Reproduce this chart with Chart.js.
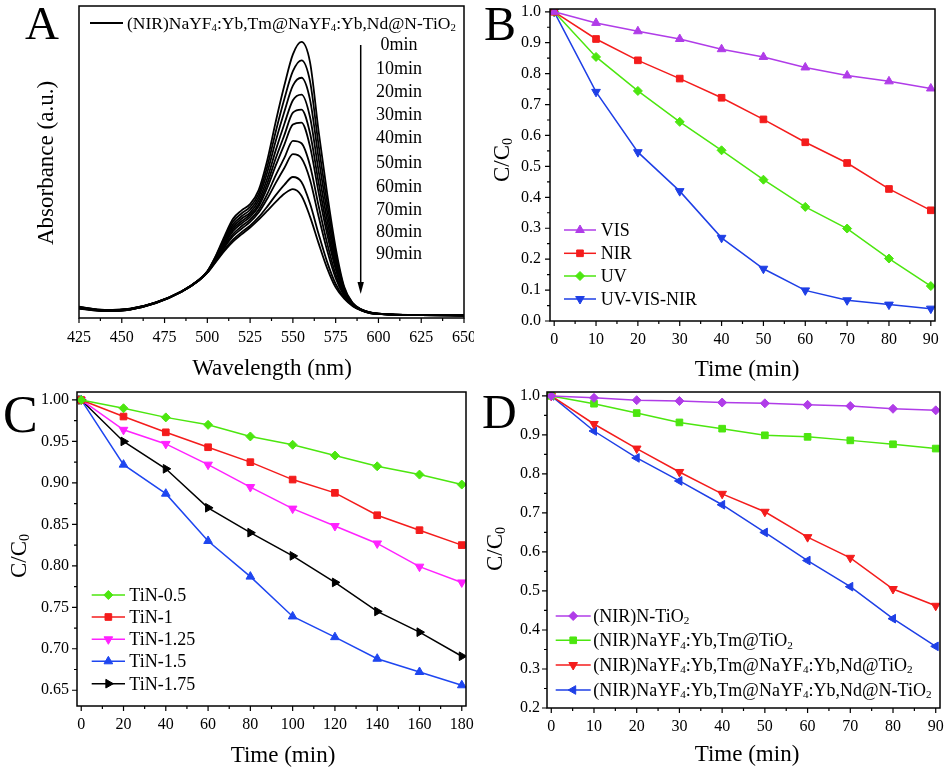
<!DOCTYPE html>
<html>
<head>
<meta charset="utf-8">
<script src="https://cdn.jsdelivr.net/npm/chart.js@4.4.1/dist/chart.umd.min.js"></script>
<style>
  html, body { margin: 0; padding: 0; background: #fff; }
  #wrap { position: relative; width: 948px; height: 772px; overflow: hidden; }
  canvas { position: absolute; }
</style>
</head>
<body>
<div id="wrap">
  <canvas id="chartA" width="474" height="386" style="left:0;top:0"></canvas>
  <canvas id="chartB" width="474" height="386" style="left:474px;top:0"></canvas>
  <canvas id="chartC" width="474" height="386" style="left:0;top:386px"></canvas>
  <canvas id="chartD" width="474" height="386" style="left:474px;top:386px"></canvas>
</div>
<script>
// ---- panel A: absorption spectra ----
const wavelengths = [425, 440, 455, 470, 485, 495, 500, 505, 510, 515, 520, 525, 530, 535, 540,
                     545, 550, 555, 560, 565, 570, 575, 580, 585, 590, 595, 600, 610, 625, 650];
const abs0  = [0.036,0.026,0.030,0.050,0.086,0.122,0.150,0.200,0.262,0.318,0.345,0.365,0.410,0.505,0.630,0.745,0.845,0.885,0.820,0.600,0.400,0.225,0.100,0.048,0.028,0.018,0.014,0.011,0.010,0.009];
const abs10 = [0.035,0.026,0.030,0.050,0.086,0.122,0.149,0.198,0.256,0.309,0.335,0.356,0.398,0.485,0.598,0.702,0.791,0.826,0.759,0.555,0.370,0.209,0.095,0.047,0.027,0.018,0.014,0.011,0.010,0.009];
const abs20 = [0.035,0.025,0.029,0.050,0.086,0.122,0.149,0.195,0.251,0.300,0.326,0.347,0.387,0.466,0.568,0.661,0.745,0.770,0.700,0.513,0.342,0.194,0.091,0.046,0.027,0.018,0.014,0.011,0.010,0.009];
const abs30 = [0.034,0.025,0.029,0.049,0.085,0.121,0.148,0.193,0.245,0.292,0.318,0.338,0.376,0.447,0.538,0.622,0.698,0.716,0.644,0.472,0.315,0.180,0.087,0.044,0.026,0.017,0.014,0.011,0.010,0.009];
const abs40 = [0.033,0.024,0.029,0.049,0.085,0.121,0.148,0.191,0.240,0.285,0.310,0.331,0.366,0.431,0.512,0.586,0.658,0.668,0.593,0.435,0.290,0.167,0.083,0.043,0.026,0.017,0.013,0.011,0.009,0.008];
const abs50 = [0.033,0.024,0.028,0.049,0.085,0.121,0.147,0.189,0.236,0.278,0.303,0.324,0.358,0.417,0.489,0.556,0.620,0.626,0.550,0.403,0.269,0.156,0.079,0.043,0.026,0.017,0.013,0.010,0.009,0.008];
const abs60 = [0.032,0.023,0.028,0.049,0.085,0.121,0.147,0.187,0.231,0.269,0.294,0.315,0.347,0.397,0.458,0.513,0.568,0.560,0.489,0.360,0.240,0.140,0.075,0.041,0.025,0.017,0.013,0.010,0.009,0.008];
const abs70 = [0.031,0.023,0.028,0.048,0.084,0.120,0.146,0.185,0.226,0.262,0.286,0.308,0.338,0.382,0.433,0.481,0.525,0.512,0.443,0.326,0.217,0.128,0.071,0.040,0.025,0.016,0.013,0.010,0.009,0.008];
const abs80 = [0.031,0.022,0.027,0.048,0.084,0.120,0.145,0.182,0.219,0.251,0.275,0.296,0.323,0.357,0.394,0.427,0.452,0.436,0.367,0.270,0.180,0.109,0.065,0.039,0.024,0.016,0.013,0.010,0.009,0.008];
const abs90 = [0.030,0.022,0.027,0.048,0.084,0.120,0.145,0.180,0.215,0.245,0.268,0.290,0.315,0.343,0.372,0.398,0.413,0.392,0.325,0.240,0.160,0.098,0.062,0.038,0.024,0.016,0.013,0.010,0.009,0.008];
const spectra = [abs0, abs10, abs20, abs30, abs40, abs50, abs60, abs70, abs80, abs90];
const timeLabelsA = ['0min', '10min', '20min', '30min', '40min', '50min', '60min', '70min', '80min', '90min'];
const ticksAx = [425, 450, 475, 500, 525, 550, 575, 600, 625, 650];

// ---- panel B: light sources ----
const timeB = [0, 10, 20, 30, 40, 50, 60, 70, 80, 90];
const vis      = [1.0, 0.964, 0.937, 0.912, 0.879, 0.854, 0.820, 0.794, 0.775, 0.752];
const nir      = [1.0, 0.912, 0.843, 0.784, 0.722, 0.652, 0.578, 0.511, 0.427, 0.358];
const uv       = [1.0, 0.854, 0.744, 0.644, 0.552, 0.457, 0.369, 0.299, 0.202, 0.113];
const uvVisNir = [1.0, 0.741, 0.546, 0.420, 0.269, 0.169, 0.099, 0.067, 0.053, 0.040];
const ticksBx = [0, 10, 20, 30, 40, 50, 60, 70, 80, 90];
const ticksBy = [0.0, 0.1, 0.2, 0.3, 0.4, 0.5, 0.6, 0.7, 0.8, 0.9, 1.0];

// ---- panel C: TiN samples ----
const timeC = [0, 20, 40, 60, 80, 100, 120, 140, 160, 180];
const tin05  = [1.0, 0.990, 0.979, 0.970, 0.956, 0.946, 0.933, 0.920, 0.910, 0.898];
const tin1   = [1.0, 0.980, 0.961, 0.943, 0.925, 0.904, 0.888, 0.861, 0.843, 0.825];
const tin125 = [1.0, 0.964, 0.947, 0.922, 0.895, 0.869, 0.848, 0.827, 0.799, 0.780];
const tin15  = [1.0, 0.922, 0.887, 0.830, 0.787, 0.739, 0.714, 0.688, 0.672, 0.656];
const tin175 = [1.0, 0.950, 0.917, 0.870, 0.840, 0.812, 0.780, 0.745, 0.720, 0.691];
const ticksCx = [0, 20, 40, 60, 80, 100, 120, 140, 160, 180];
const ticksCy = [0.65, 0.70, 0.75, 0.80, 0.85, 0.90, 0.95, 1.00];

// ---- panel D: catalysts under NIR ----
const timeD = [0, 10, 20, 30, 40, 50, 60, 70, 80, 90];
const nTiO2    = [1.0, 0.995, 0.989, 0.987, 0.983, 0.981, 0.977, 0.974, 0.967, 0.963];
const ybTmTiO2 = [1.0, 0.980, 0.956, 0.932, 0.916, 0.899, 0.895, 0.886, 0.876, 0.865];
const ndTiO2   = [1.0, 0.928, 0.865, 0.805, 0.749, 0.703, 0.638, 0.585, 0.505, 0.462];
const ndNTiO2  = [1.0, 0.910, 0.841, 0.782, 0.721, 0.650, 0.578, 0.511, 0.429, 0.358];
const ticksDx = [0, 10, 20, 30, 40, 50, 60, 70, 80, 90];
const ticksDy = [0.2, 0.3, 0.4, 0.5, 0.6, 0.7, 0.8, 0.9, 1.0];

const SERIF = "'Liberation Serif', 'Times New Roman', serif";
const VIOLET = '#b03ce8', RED = '#f41c1c', GREEN = '#4ce60f', BLUE = '#1e3fe6', MAGENTA = '#ff22ff';

// text with "_x" = subscript x
function richText(ctx, str, x, y, size, align) {
  const parts = [];
  for (let i = 0; i < str.length; i++) {
    if (str[i] === '_') { parts.push({ t: str[i + 1], sub: true }); i++; }
    else if (parts.length && !parts[parts.length - 1].sub) parts[parts.length - 1].t += str[i];
    else parts.push({ t: str[i], sub: false });
  }
  const subSize = size * 0.62;
  let w = 0;
  parts.forEach(p => {
    ctx.font = (p.sub ? subSize : size) + 'px ' + SERIF;
    p.w = ctx.measureText(p.t).width;
    w += p.w;
  });
  let cx = align === 'center' ? x - w / 2 : x;
  ctx.textAlign = 'left';
  ctx.textBaseline = 'alphabetic';
  ctx.fillStyle = '#000';
  parts.forEach(p => {
    ctx.font = (p.sub ? subSize : size) + 'px ' + SERIF;
    ctx.fillText(p.t, cx, p.sub ? y + size * 0.14 : y);
    cx += p.w;
  });
}

function marker(ctx, ds, x, y) {
  ctx.fillStyle = ds.pointBackgroundColor;
  ctx.strokeStyle = ds.pointBorderColor;
  ctx.lineWidth = ds.pointBorderWidth;
  Chart.helpers.drawPoint(ctx, {
    pointStyle: ds.pointStyle, rotation: ds.pointRotation || 0,
    radius: ds.pointRadius, borderWidth: ds.pointBorderWidth
  }, x, y);
}

const framePlugin = {
  id: 'frame',
  afterDraw(chart, args, o) {
    const ctx = chart.ctx, a = chart.chartArea;
    const xs = chart.scales.x, ys = chart.scales.y;
    ctx.save();
    ctx.strokeStyle = '#000';
    ctx.lineWidth = 1.5;
    ctx.strokeRect(a.left, a.top, a.right - a.left, a.bottom - a.top);

    // major + minor tick marks, pointing out of the box
    ctx.lineWidth = 1.2;
    ctx.beginPath();
    const xTick = (v, len) => { const p = xs.getPixelForValue(v); ctx.moveTo(p, a.bottom); ctx.lineTo(p, a.bottom + len); };
    const yTick = (v, len) => { const p = ys.getPixelForValue(v); ctx.moveTo(a.left, p); ctx.lineTo(a.left - len, p); };
    (o.xTicks || []).forEach((v, i, arr) => {
      xTick(v, 5);
      if (i < arr.length - 1) xTick((v + arr[i + 1]) / 2, 3);
    });
    (o.yTicks || []).forEach((v, i, arr) => {
      yTick(v, 5);
      if (i < arr.length - 1) yTick((v + arr[i + 1]) / 2, 3);
    });
    ctx.stroke();

    // titles
    richText(ctx, o.xTitle.text, o.xTitle.x, o.xTitle.y + 23 * 0.33, 23, 'center');
    ctx.save();
    ctx.translate(o.yTitle.x, o.yTitle.y);
    ctx.rotate(-Math.PI / 2);
    richText(ctx, o.yTitle.text, 0, 23 * 0.33, 23, 'center');
    ctx.restore();
    ctx.font = o.letter.size + 'px ' + SERIF;
    ctx.fillStyle = '#000';
    ctx.textAlign = 'left';
    ctx.textBaseline = 'alphabetic';
    ctx.fillText(o.letter.text, o.letter.x, o.letter.y);

    // legend: line + marker + label
    if (o.legend) {
      const L = o.legend;
      chart.data.datasets.forEach((ds, i) => {
        if (i >= L.rows.length) return;
        const y = L.rows[i];
        ctx.strokeStyle = ds.borderColor;
        ctx.lineWidth = ds.borderWidth;
        ctx.beginPath();
        ctx.moveTo(L.x1, y);
        ctx.lineTo(L.x2, y);
        ctx.stroke();
        if (ds.pointRadius > 0) marker(ctx, ds, (L.x1 + L.x2) / 2, y);
        richText(ctx, L.labels ? L.labels[i] : ds.label, L.tx, y + L.size * 0.33, L.size, 'left');
      });
    }
    if (o.extra) o.extra(ctx, chart);
    ctx.restore();
  }
};

const pts = (xv, yv) => xv.map((x, i) => ({ x: x, y: yv[i] }));

function series(label, xv, yv, color, style, rot, r) {
  return {
    label: label, data: pts(xv, yv),
    borderColor: color, backgroundColor: color, borderWidth: 1.5,
    pointStyle: style, pointRotation: rot, pointRadius: r,
    pointBackgroundColor: color, pointBorderColor: color, pointBorderWidth: 1,
    tension: 0
  };
}

function xAxis(min, max, tickVals, height, pad, fmt) {
  return {
    type: 'linear', min: min, max: max,
    afterBuildTicks: s => { s.ticks = tickVals.map(v => ({ value: v })); },
    afterFit: s => { s.height = height; s.paddingLeft = 0; s.paddingRight = 0; },
    ticks: { font: { family: SERIF, size: 16 }, color: '#000', padding: pad, maxRotation: 0, autoSkip: false, callback: v => fmt(v) },
    grid: { display: false, drawTicks: false },
    border: { display: false }
  };
}

function yAxis(min, max, tickVals, width, pad, fmt) {
  return {
    type: 'linear', min: min, max: max,
    afterBuildTicks: s => { s.ticks = tickVals.map(v => ({ value: v })); },
    afterFit: s => { s.width = width; s.paddingTop = 0; s.paddingBottom = 0; },
    ticks: { display: tickVals.length > 0, font: { family: SERIF, size: 16 }, color: '#000', padding: pad, autoSkip: false, callback: v => fmt(v) },
    grid: { display: false, drawTicks: false },
    border: { display: false }
  };
}

const fmt0 = v => String(v);
const fmt1 = v => v.toFixed(1);
const fmt2 = v => v.toFixed(2);

function baseOptions(pad, scales, frame) {
  return {
    responsive: false, animation: false, devicePixelRatio: 1,
    layout: { padding: pad },
    scales: scales,
    plugins: { legend: { display: false }, tooltip: { enabled: false }, frame: frame }
  };
}

// ---- A ----
new Chart(document.getElementById('chartA'), {
  type: 'line',
  data: {
    datasets: spectra.map((s, i) => ({
      label: timeLabelsA[i], data: pts(wavelengths, s),
      borderColor: '#000', borderWidth: 1.8, pointRadius: 0,
      cubicInterpolationMode: 'monotone'
    }))
  },
  options: baseOptions({ left: 0, top: 6, right: 10, bottom: 0 }, {
    x: xAxis(425, 650, ticksAx, 68, 10, fmt0),
    y: yAxis(0, 1, [], 79, 0, fmt0)
  }, {
    xTicks: ticksAx,
    xTitle: { text: 'Wavelength (nm)', x: 272, y: 367 },
    yTitle: { text: 'Absorbance (a.u.)', x: 45, y: 163 },
    letter: { text: 'A', x: 25, y: 39, size: 47 },
    extra: (ctx) => {
      // legend line + sample name
      ctx.strokeStyle = '#000';
      ctx.lineWidth = 1.8;
      ctx.beginPath(); ctx.moveTo(90, 23); ctx.lineTo(123, 23); ctx.stroke();
      richText(ctx, '(NIR)NaYF_4:Yb,Tm@NaYF_4:Yb,Nd@N-TiO_2', 127, 23 + 17.5 * 0.33, 17.5, 'left');
      // time labels
      const rows = [44.3, 67.7, 90.7, 113.7, 137.3, 162.3, 186, 209, 231, 253.3];
      timeLabelsA.forEach((t, i) => richText(ctx, t, 399, rows[i] + 18 * 0.33, 18, 'center'));
      // arrow
      ctx.lineWidth = 1.5;
      ctx.beginPath(); ctx.moveTo(360.7, 45); ctx.lineTo(360.7, 288); ctx.stroke();
      ctx.fillStyle = '#000';
      ctx.beginPath(); ctx.moveTo(360.7, 294); ctx.lineTo(357.5, 282); ctx.lineTo(363.9, 282); ctx.closePath(); ctx.fill();
    }
  }),
  plugins: [framePlugin]
});

// ---- B ----
new Chart(document.getElementById('chartB'), {
  type: 'line',
  data: {
    datasets: [
      series('VIS', timeB, vis, VIOLET, 'triangle', 0, 5),
      series('NIR', timeB, nir, RED, 'rect', 0, 4.7),
      series('UV', timeB, uv, GREEN, 'rectRot', 0, 4.5),
      series('UV-VIS-NIR', timeB, uvVisNir, BLUE, 'triangle', 180, 5)
    ]
  },
  options: baseOptions({ left: 0, top: 9, right: 13, bottom: 0 }, {
    x: xAxis(-1, 91, ticksBx, 65, 9, fmt0),
    y: yAxis(0, 1.009, ticksBy, 76, 9, fmt1)
  }, {
    xTicks: ticksBx, yTicks: ticksBy,
    xTitle: { text: 'Time (min)', x: 273, y: 368 },
    yTitle: { text: 'C/C_0', x: 27, y: 160 },
    letter: { text: 'B', x: 10, y: 40, size: 48 },
    legend: { x1: 90, x2: 122, tx: 126.7, rows: [230, 253.3, 276, 299], size: 18 }
  }),
  plugins: [framePlugin]
});

// ---- C ----
new Chart(document.getElementById('chartC'), {
  type: 'line',
  data: {
    datasets: [
      series('TiN-0.5', timeC, tin05, GREEN, 'rectRot', 0, 4.5),
      series('TiN-1', timeC, tin1, RED, 'rect', 0, 4.7),
      series('TiN-1.25', timeC, tin125, MAGENTA, 'triangle', 180, 5),
      series('TiN-1.5', timeC, tin15, '#1e46f0', 'triangle', 0, 5),
      series('TiN-1.75', timeC, tin175, '#000', 'triangle', 90, 5)
    ]
  },
  options: baseOptions({ left: 0, top: 5, right: 8, bottom: 0 }, {
    x: xAxis(-2, 182, ticksCx, 66, 9, fmt0),
    y: yAxis(0.631, 1.0096, ticksCy, 77, 8, fmt2)
  }, {
    xTicks: ticksCx, yTicks: ticksCy,
    xTitle: { text: 'Time (min)', x: 283, y: 368 },
    yTitle: { text: 'C/C_0', x: 18, y: 170 },
    letter: { text: 'C', x: 3, y: 46, size: 52 },
    legend: { x1: 91.7, x2: 125, tx: 129.3, rows: [209, 231, 253.3, 275.3, 297.7], size: 18 }
  }),
  plugins: [framePlugin]
});

// ---- D ----
new Chart(document.getElementById('chartD'), {
  type: 'line',
  data: {
    datasets: [
      series('(NIR)N-TiO_2', timeD, nTiO2, VIOLET, 'rectRot', 0, 4.5),
      series('(NIR)NaYF_4:Yb,Tm@TiO_2', timeD, ybTmTiO2, GREEN, 'rect', 0, 4.7),
      series('(NIR)NaYF_4:Yb,Tm@NaYF_4:Yb,Nd@TiO_2', timeD, ndTiO2, RED, 'triangle', 180, 5),
      series('(NIR)NaYF_4:Yb,Tm@NaYF_4:Yb,Nd@N-TiO_2', timeD, ndNTiO2, BLUE, 'triangle', -90, 5)
    ]
  },
  options: baseOptions({ left: 0, top: 3, right: 8, bottom: 0 }, {
    x: xAxis(-1, 91, ticksDx, 64, 9, fmt0),
    y: yAxis(0.2, 1.010, ticksDy, 73, 7, fmt1)
  }, {
    xTicks: ticksDx, yTicks: ticksDy,
    xTitle: { text: 'Time (min)', x: 273, y: 367 },
    yTitle: { text: 'C/C_0', x: 20, y: 163 },
    letter: { text: 'D', x: 8, y: 42, size: 48 },
    legend: { x1: 81.7, x2: 116.7, tx: 119.3, rows: [230, 254.3, 279, 304], size: 18 }
  }),
  plugins: [framePlugin]
});
</script>
</body>
</html>
